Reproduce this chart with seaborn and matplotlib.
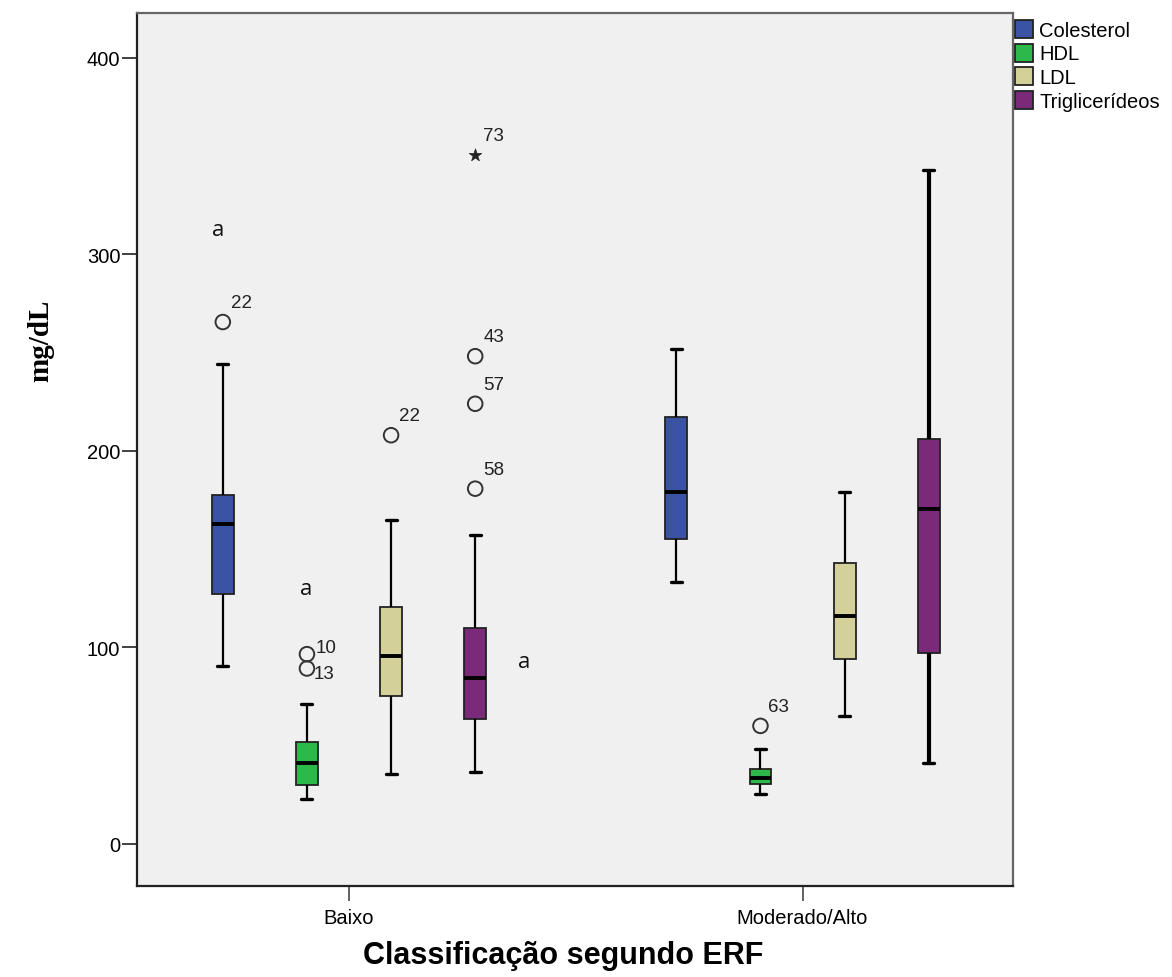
import numpy as np
import pandas as pd
import seaborn as sns
import matplotlib
matplotlib.use("Agg")
import matplotlib.pyplot as plt

# ---------------- data ----------------
groups = ["Baixo", "Moderado/Alto"]
variables = ["Colesterol", "HDL", "LDL", "Triglicerídeos"]

# five-number summaries: lower whisker, Q1, median, Q3, upper whisker (mg/dL)
col_baixo = [90.5, 127.0, 163.0, 177.5, 244.0]
hdl_baixo = [22.7, 30.1, 41.0, 51.8, 71.3]
ldl_baixo = [35.6, 75.2, 95.7, 120.6, 165.0]
tri_baixo = [36.8, 63.7, 84.7, 110.1, 157.0]
col_mod = [133.3, 155.0, 179.0, 217.2, 252.0]
hdl_mod = [25.4, 30.3, 33.8, 38.4, 48.3]
ldl_mod = [65.2, 94.0, 116.0, 143.2, 179.0]
tri_mod = [41.2, 97.1, 170.3, 206.3, 343.0]

# outliers (case numbers as labelled by SPSS)
out_group = ["Baixo", "Baixo", "Baixo", "Baixo", "Baixo", "Baixo", "Baixo", "Baixo", "Moderado/Alto"]
out_var = ["Colesterol", "HDL", "HDL", "LDL", "Triglicerídeos", "Triglicerídeos",
           "Triglicerídeos", "Triglicerídeos", "HDL"]
out_value = [265.6, 96.6, 89.3, 208.0, 180.8, 224.0, 248.2, 350.7, 60.1]
out_case = ["22", "10", "13", "22", "58", "57", "43", "73", "63"]
out_extreme = [False, False, False, False, False, False, False, True, False]

# significance letters
a_group = ["Baixo", "Baixo", "Baixo"]
a_var = ["Colesterol", "HDL", "Triglicerídeos"]
a_value = [312.6, 129.8, 93.0]

colors = ["#3A53A4", "#2DB84B", "#D4D09A", "#7B2A7A"]

# ---------------- build long table ----------------
summaries = {"Baixo": [col_baixo, hdl_baixo, ldl_baixo, tri_baixo],
             "Moderado/Alto": [col_mod, hdl_mod, ldl_mod, tri_mod]}
rows = []
for g in groups:
    for v, arr in zip(variables, summaries[g]):
        for val in arr:
            rows.append((g, v, val))
df = pd.DataFrame(rows, columns=["grupo", "variavel", "valor"])

# ---------------- figure ----------------
sns.set_theme(style="ticks")
plt.rcParams["font.family"] = ["Liberation Sans", "DejaVu Sans"]
plt.rcParams["text.color"] = "black"
plt.rcParams["axes.labelcolor"] = "black"
plt.rcParams["xtick.labelcolor"] = "black"
plt.rcParams["ytick.labelcolor"] = "black"

fig = plt.figure(figsize=(11.72, 9.78), dpi=100)
ax = fig.add_axes([0.1169, 0.0930, 0.7474, 0.8922])
ax.set_facecolor("#F0F0F0")

WIDTH = 0.742
GAP = 0.74
palette = dict(zip(variables, colors))

sns.boxplot(data=df, x="grupo", y="valor", hue="variavel", order=groups,
            hue_order=variables, palette=palette, width=WIDTH, gap=GAP,
            whis=np.inf, showfliers=False, saturation=1,
            linecolor="#222222", linewidth=1.3,
            medianprops=dict(color="black", linewidth=2.8),
            whiskerprops=dict(color="black", linewidth=1.6),
            capprops=dict(color="black", linewidth=2.4),
            ax=ax)

# thicker whiskers for the Moderado/Alto triglycerides box (as in the original)
try:
    cont = ax.containers[3]
    for ln in cont.whiskers[2:4]:
        ln.set_linewidth(3.0)
except Exception:
    pass

n_h = len(variables)
slot = WIDTH / n_h


def xpos(g, v):
    return groups.index(g) + (variables.index(v) - (n_h - 1) / 2) * slot


ox = np.array([xpos(g, v) for g, v in zip(out_group, out_var)])
oy = np.array(out_value)
ext = np.array(out_extreme)

sns.scatterplot(x=ox[~ext], y=oy[~ext], marker="o", s=110, facecolor="none",
                edgecolor="#333333", linewidth=1.4, legend=False, ax=ax, zorder=5)
sns.scatterplot(x=ox[ext], y=oy[ext], marker="*", s=90, color="#222222",
                edgecolor="#222222", linewidth=0.5, legend=False, ax=ax, zorder=5)

label_offsets = {1: (9, -2), 2: (7, -14)}
for i, (x, y, c) in enumerate(zip(ox, oy, out_case)):
    dx, dy = label_offsets.get(i, (8, 11))
    ax.annotate(c, (x, y), xytext=(dx, dy), textcoords="offset pixels",
                ha="left", va="bottom", fontsize=13.5, color="#222222")

a_dx = [-5, -1, 49]
for g, v, val, dx in zip(a_group, a_var, a_value, a_dx):
    ax.annotate("a", (xpos(g, v), val), xytext=(dx, 0), textcoords="offset pixels",
                ha="center", va="center", fontsize=16, color="#111111",
                family=["Open Sans", "DejaVu Sans"])

# ---------------- axes ----------------
ax.set_xlim(-0.4675, 1.464)
ax.set_ylim(-21.4, 422.6)
ax.set_yticks([0, 100, 200, 300, 400])
ax.tick_params(axis="y", length=11, width=1.3, pad=1, labelsize=14.5, color="#333333")
ax.tick_params(axis="x", length=11, width=1.3, pad=5, labelsize=14.5, color="#555555")

for side in ["left", "bottom"]:
    ax.spines[side].set_color("#222222")
    ax.spines[side].set_linewidth(1.6)
for side in ["top", "right"]:
    ax.spines[side].set_visible(True)
    ax.spines[side].set_color("#666666")
    ax.spines[side].set_linewidth(1.6)

ax.set_xlabel("Classificação segundo ERF", fontsize=22, fontweight="bold",
              family=["Liberation Sans", "DejaVu Sans"], va="center", color="black")
ax.xaxis.set_label_coords(0.486, -0.079)
ax.set_ylabel("mg/dL", fontsize=21, fontweight="bold", color="black",
              family=["Liberation Serif", "DejaVu Serif"], va="center", ha="center")
ax.yaxis.set_label_coords(-0.110, 0.626)

sns.move_legend(ax, "upper left", bbox_to_anchor=(1015 / 1172, 1 - 21 / 978),
                bbox_transform=fig.transFigure, frameon=False, title=None,
                fontsize=14.5, handlelength=0.9, handleheight=1.0,
                labelspacing=0.18, handletextpad=0.3, borderpad=0,
                borderaxespad=0)

fig.savefig("out.png", dpi=100, facecolor="white")
